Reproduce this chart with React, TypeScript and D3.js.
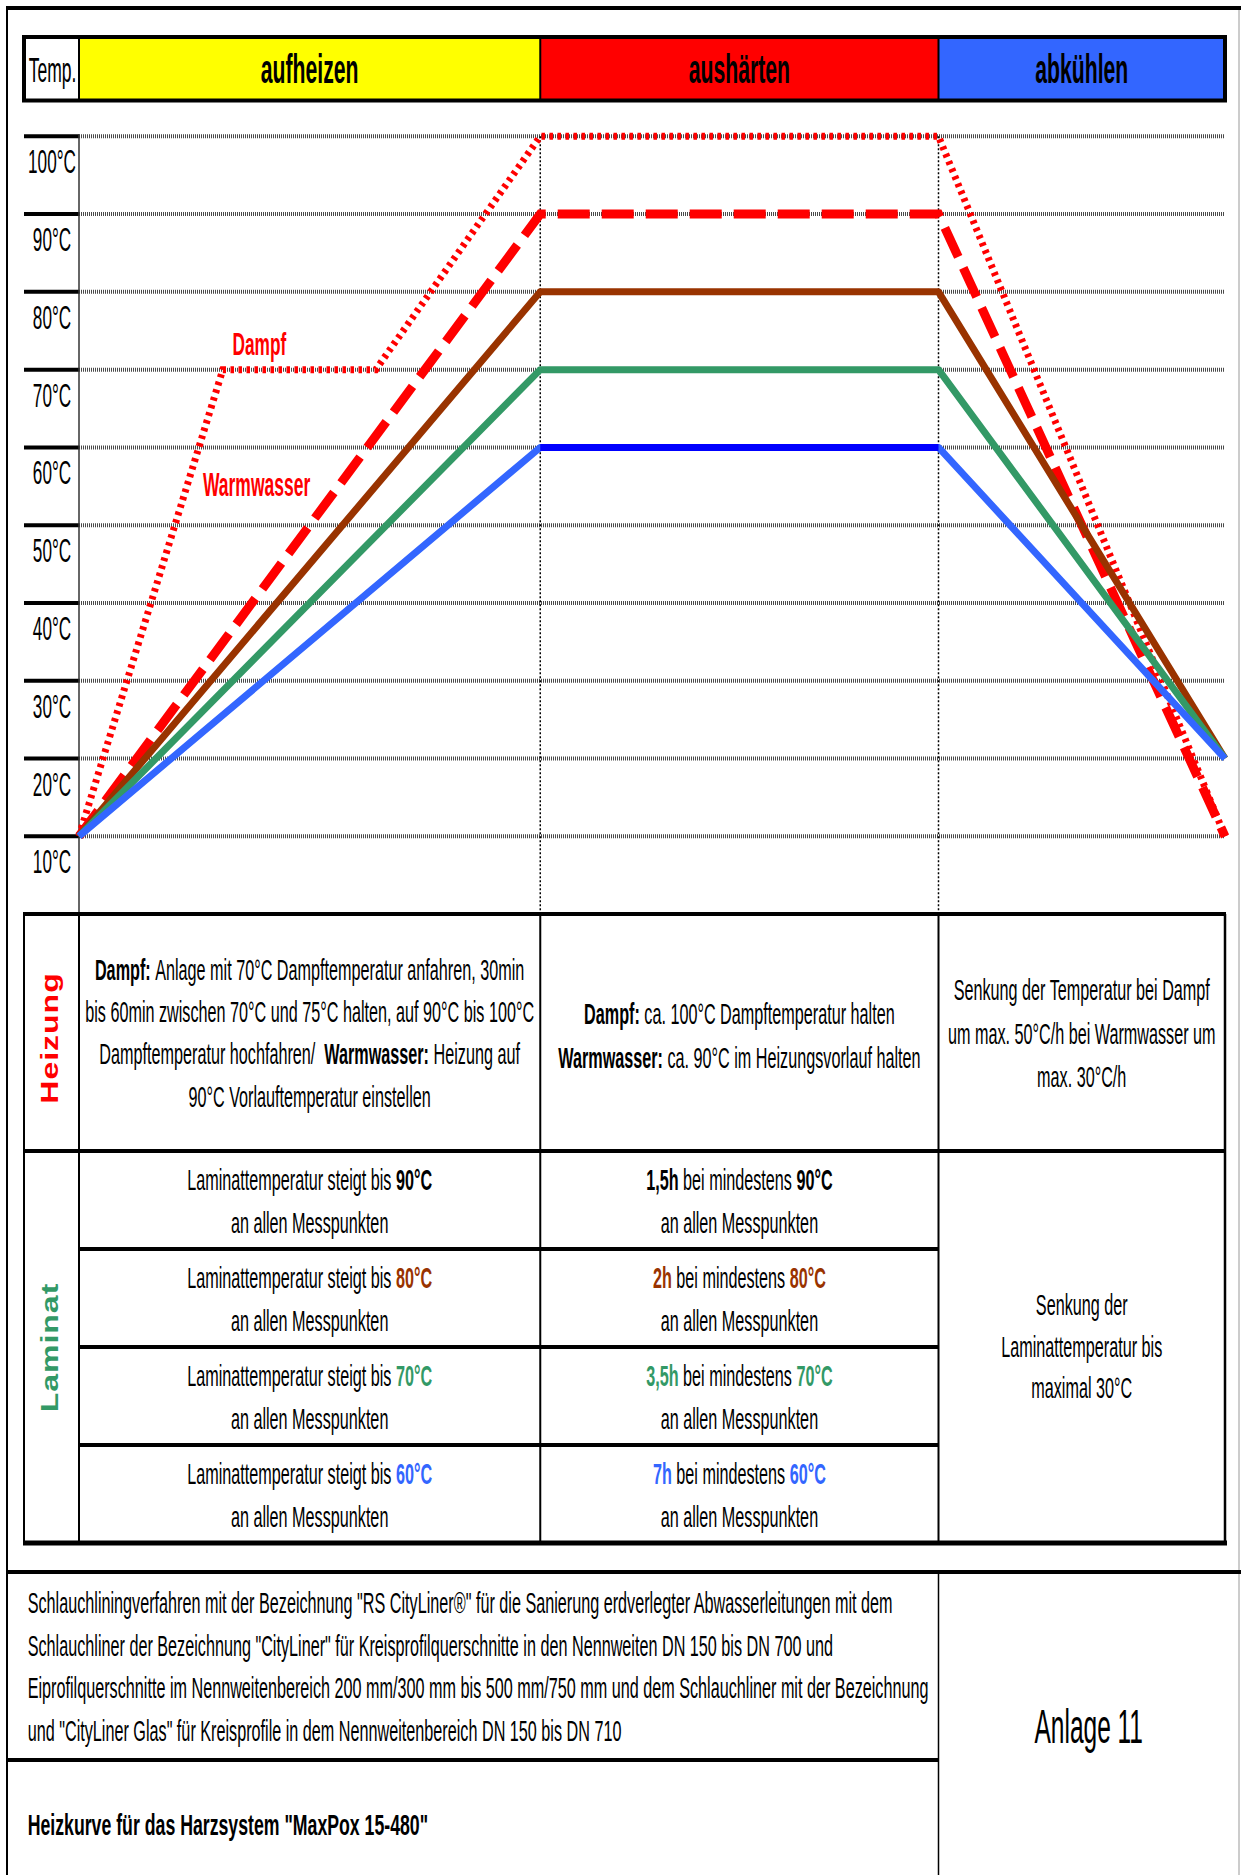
import React from 'react';
import * as d3 from 'd3';

const W = 1241;
const H = 1875;

// ---- data ----
const TEMP_TICKS = [10, 20, 30, 40, 50, 60, 70, 80, 90, 100];
const PHASES = ['aufheizen', 'aushärten', 'abkühlen'];
const PHASE_COLORS = ['#FFFF00', '#FF0000', '#3366FF'];
const PHASE_BOUNDS = [0, 8.05, 15, 20];

const DAMPF_X = [0, 2.51, 5.18, 8.05, 15, 20];
const DAMPF_Y = [10, 70, 70, 100, 100, 10];
const WW_X = [0, 8.05, 15, 20];
const WW_Y = [10, 90, 90, 10];
const LAM_X = [0, 8.05, 15, 20];
const LAM80_Y = [10, 80, 80, 20];
const LAM70_Y = [10, 70, 70, 20];
const LAM60_Y = [10, 60, 60, 20];

type Seg = { t: string; b?: boolean; c?: string };

const HEIZ_AUF: Seg[][] = [
  [{ t: 'Dampf: ', b: true }, { t: 'Anlage mit 70°C Dampftemperatur anfahren, 30min' }],
  [{ t: 'bis 60min zwischen 70°C und 75°C halten, auf 90°C bis 100°C' }],
  [{ t: 'Dampftemperatur hochfahren/  ' }, { t: 'Warmwasser: ', b: true }, { t: 'Heizung auf' }],
  [{ t: '90°C Vorlauftemperatur einstellen' }],
];
const HEIZ_AUS: Seg[][] = [
  [{ t: 'Dampf:', b: true }, { t: ' ca. 100°C Dampftemperatur halten' }],
  [{ t: 'Warmwasser:', b: true }, { t: ' ca. 90°C im Heizungsvorlauf halten' }],
];
const HEIZ_ABK = ['Senkung der Temperatur bei Dampf', 'um max. 50°C/h bei Warmwasser um', 'max. 30°C/h'];

const LAM_TARGETS = ['90°C', '80°C', '70°C', '60°C'];
const LAM_DURATIONS = ['1,5h', '2h', '3,5h', '7h'];
const LAM_COLORS = ['#000000', '#993300', '#339966', '#3366FF'];
const LAM_ABK = ['Senkung der', 'Laminattemperatur bis', 'maximal 30°C'];

const FOOTER_LINES = [
  'Schlauchliningverfahren mit der Bezeichnung "RS CityLiner®" für die Sanierung erdverlegter Abwasserleitungen mit dem',
  'Schlauchliner der Bezeichnung "CityLiner" für Kreisprofilquerschnitte in den Nennweiten DN 150 bis DN 700 und',
  'Eiprofilquerschnitte im Nennweitenbereich 200 mm/300 mm bis 500 mm/750 mm und dem Schlauchliner mit der Bezeichnung',
  'und "CityLiner Glas" für Kreisprofile in dem Nennweitenbereich DN 150 bis DN 710',
];
const FOOTER_TITLE = 'Heizkurve für das Harzsystem "MaxPox 15-480"';
const ANLAGE = 'Anlage 11';

// ---- layout ----
const FONT = "'Liberation Sans', Arial, sans-serif";
const SX = 0.54;
const x = d3.scaleLinear().domain([0, 20]).range([79, 1225]);
const y = d3.scaleLinear().domain([10, 100]).range([836.3, 136.3]);
const lineGen = d3
  .line<[number, number]>()
  .x((d) => x(d[0]))
  .y((d) => y(d[1]));
const pts = (xs: number[], ys: number[]): [number, number][] => xs.map((v, i) => [v, ys[i]]);

const LEFT = 24;
const COLS = PHASE_BOUNDS.map((b) => x(b));
const HEAD_TOP = 37;
const HEAD_BOT = 100.5;
const TABLE_TOP = 914;
const HEIZ_BOT = 1151;
const ROW_H = 98;
const TABLE_BOT = 1543;
const FOOT_TOP = 1572;
const FOOT_MID = 1760;

function T({
  x: tx,
  y: ty,
  size = 30,
  weight = 'normal',
  fill = '#000',
  anchor = 'middle',
  sx = SX,
  children,
}: any) {
  return (
    <text
      transform={`translate(${tx},${ty}) scale(${sx},1)`}
      fontSize={size}
      fontWeight={weight}
      fill={fill}
      textAnchor={anchor}
      fontFamily={FONT}
      style={{ whiteSpace: 'pre' }}
    >
      {children}
    </text>
  );
}

function Segs({ segs }: { segs: Seg[] }) {
  return (
    <>
      {segs.map((s, i) => (
        <tspan key={i} fontWeight={s.b ? 'bold' : 'normal'} fill={s.c || '#000'}>
          {s.t}
        </tspan>
      ))}
    </>
  );
}

function VLabel({ cx, cy, fill, children }: any) {
  return (
    <text
      transform={`translate(${cx},${cy}) scale(0.75,1) rotate(-90)`}
      fontSize={32}
      fontWeight="bold"
      fill={fill}
      textAnchor="middle"
      dominantBaseline="central"
      letterSpacing={1}
      fontFamily={FONT}
    >
      {children}
    </text>
  );
}

export default function App() {
  const colMid = (i: number) => (COLS[i] + COLS[i + 1]) / 2;
  return (
    <svg
      width={W}
      height={H}
      viewBox={`0 0 ${W} ${H}`}
      style={{ position: 'absolute', left: 0, top: 0, background: '#fff' }}
    >
      <rect x={0} y={0} width={W} height={H} fill="#fff" />
      {/* page border */}
      <line x1={7} y1={8} x2={W} y2={8} stroke="#000" strokeWidth={4} />
      <line x1={7} y1={6} x2={7} y2={H} stroke="#000" strokeWidth={2} />
      <line x1={1239} y1={10} x2={1239} y2={H} stroke="#bbb" strokeWidth={1.5} />

      {/* header */}
      {PHASES.map((p, i) => (
        <rect key={p} x={COLS[i]} y={HEAD_TOP} width={COLS[i + 1] - COLS[i]} height={HEAD_BOT - HEAD_TOP} fill={PHASE_COLORS[i]} />
      ))}
      <rect x={LEFT} y={HEAD_TOP} width={COLS[3] - LEFT} height={HEAD_BOT - HEAD_TOP} fill="none" stroke="#000" strokeWidth={4} />
      {COLS.slice(0, 3).map((cx, i) => (
        <line key={i} x1={cx} y1={HEAD_TOP} x2={cx} y2={HEAD_BOT} stroke="#000" strokeWidth={2} />
      ))}
      <T x={(LEFT + COLS[0]) / 2 + 1} y={82} size={35} sx={0.5}>
        Temp.
      </T>
      {PHASES.map((p, i) => (
        <T key={p} x={colMid(i)} y={83} size={40} weight="bold" sx={0.53}>
          {p}
        </T>
      ))}

      {/* grid */}
      {TEMP_TICKS.map((t) => (
        <g key={t}>
          <line x1={x(0)} y1={y(t)} x2={x(20)} y2={y(t)} stroke="#4a4a4a" strokeWidth={4} strokeDasharray="1 1" />
          <line x1={LEFT} y1={y(t)} x2={x(0)} y2={y(t)} stroke="#000" strokeWidth={4} />
          <T x={52} y={y(t) + 37} size={33} sx={0.52}>
            {`${t}°C`}
          </T>
        </g>
      ))}
      <line x1={x(0)} y1={y(100) - 2} x2={x(0)} y2={TABLE_TOP} stroke="#333" strokeWidth={1.5} />
      {[PHASE_BOUNDS[1], PHASE_BOUNDS[2]].map((b) => (
        <line key={b} x1={x(b)} y1={y(100)} x2={x(b)} y2={TABLE_TOP} stroke="#000" strokeWidth={1.5} strokeDasharray="2 2" />
      ))}

      {/* series */}
      <path d={lineGen(pts(DAMPF_X, DAMPF_Y)) || ''} fill="none" stroke="#FF0000" strokeWidth={7} strokeDasharray="3.5 4.5" />
      <path d={lineGen(pts(WW_X, WW_Y)) || ''} fill="none" stroke="#FF0000" strokeWidth={9} strokeDasharray="32 12" />
      <path d={lineGen(pts(LAM_X, LAM80_Y)) || ''} fill="none" stroke="#993300" strokeWidth={7} strokeLinejoin="round" />
      <path d={lineGen(pts(LAM_X, LAM70_Y)) || ''} fill="none" stroke="#339966" strokeWidth={7} strokeLinejoin="round" />
      <path d={lineGen(pts(LAM_X, LAM60_Y)) || ''} fill="none" stroke="#3366FF" strokeWidth={7} strokeLinejoin="round" />
      <path d={lineGen(pts(LAM_X.slice(1, 3), LAM60_Y.slice(1, 3))) || ''} fill="none" stroke="#0000FF" strokeWidth={7} />

      <T x={232.5} y={355} size={32} weight="bold" fill="#FF0000" anchor="start" sx={0.54}>
        Dampf
      </T>
      <T x={203} y={496} size={33} weight="bold" fill="#FF0000" anchor="start" sx={0.53}>
        Warmwasser
      </T>

      {/* table lines */}
      <line x1={LEFT - 1} y1={TABLE_TOP} x2={COLS[3] + 1} y2={TABLE_TOP} stroke="#000" strokeWidth={4} />
      <line x1={LEFT - 1} y1={HEIZ_BOT} x2={COLS[3] + 1} y2={HEIZ_BOT} stroke="#000" strokeWidth={4} />
      {[1, 2, 3].map((k) => (
        <line key={k} x1={COLS[0]} y1={HEIZ_BOT + k * ROW_H} x2={COLS[2]} y2={HEIZ_BOT + k * ROW_H} stroke="#000" strokeWidth={4} />
      ))}
      <line x1={LEFT - 1} y1={TABLE_BOT} x2={COLS[3] + 2} y2={TABLE_BOT} stroke="#000" strokeWidth={5} />
      {[LEFT, ...COLS].map((cx, i) => (
        <line key={i} x1={cx} y1={TABLE_TOP} x2={cx} y2={TABLE_BOT} stroke="#000" strokeWidth={i === 4 ? 2.5 : 2} />
      ))}

      {/* row labels */}
      <VLabel cx={50} cy={1038} fill="#FF0000">
        Heizung
      </VLabel>
      <VLabel cx={50} cy={1347.5} fill="#339966">
        Laminat
      </VLabel>

      {/* Heizung texts */}
      {HEIZ_AUF.map((segs, i) => (
        <T key={i} x={colMid(0)} y={980 + i * 42.2}>
          <Segs segs={segs} />
        </T>
      ))}
      {HEIZ_AUS.map((segs, i) => (
        <T key={i} x={colMid(1)} y={1024 + i * 43.5}>
          <Segs segs={segs} />
        </T>
      ))}
      {HEIZ_ABK.map((s, i) => (
        <T key={i} x={colMid(2)} y={1000 + i * 43.5}>
          {s}
        </T>
      ))}

      {/* Laminat rows */}
      {LAM_TARGETS.map((tgt, i) => {
        const top = HEIZ_BOT + i * ROW_H;
        const c = LAM_COLORS[i];
        return (
          <g key={tgt}>
            <T x={colMid(0)} y={top + 39}>
              <Segs segs={[{ t: 'Laminattemperatur steigt bis ' }, { t: tgt, b: true, c }]} />
            </T>
            <T x={colMid(0)} y={top + 82}>
              an allen Messpunkten
            </T>
            <T x={colMid(1)} y={top + 39}>
              <Segs segs={[{ t: LAM_DURATIONS[i], b: true, c }, { t: ' bei mindestens ' }, { t: tgt, b: true, c }]} />
            </T>
            <T x={colMid(1)} y={top + 82}>
              an allen Messpunkten
            </T>
          </g>
        );
      })}
      {LAM_ABK.map((s, i) => (
        <T key={i} x={colMid(2)} y={1315 + i * 41.5}>
          {s}
        </T>
      ))}

      {/* footer */}
      <line x1={7} y1={FOOT_TOP} x2={W} y2={FOOT_TOP} stroke="#000" strokeWidth={4} />
      <line x1={7} y1={FOOT_MID} x2={COLS[2]} y2={FOOT_MID} stroke="#000" strokeWidth={4} />
      <line x1={COLS[2]} y1={FOOT_TOP} x2={COLS[2]} y2={H} stroke="#000" strokeWidth={1.5} />
      {FOOTER_LINES.map((s, i) => (
        <T key={i} x={27.7} y={1613 + i * 42.7} anchor="start">
          {s}
        </T>
      ))}
      <T x={27.7} y={1835} anchor="start" weight="bold" sx={0.59}>
        {FOOTER_TITLE}
      </T>
      <T x={(COLS[2] + 1239) / 2} y={1743} size={49} sx={0.5}>
        {ANLAGE}
      </T>
    </svg>
  );
}
